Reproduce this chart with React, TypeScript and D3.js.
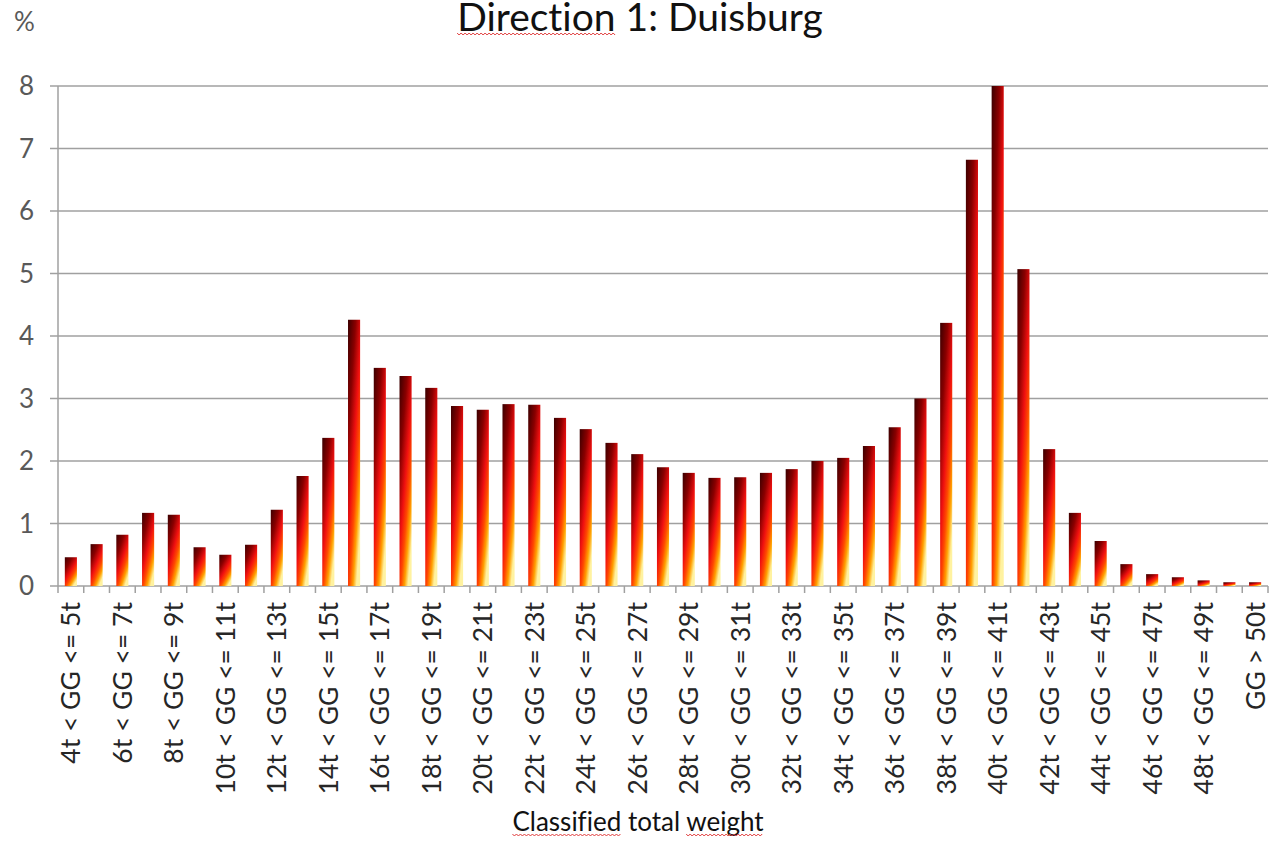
import React, { useEffect, useRef } from 'react';
import * as d3 from 'd3';

// weight classes, one bar each
const categories: string[] = [
	'4t < GG <= 5t', '5t < GG <= 6t', '6t < GG <= 7t', '7t < GG <= 8t',
	'8t < GG <= 9t', '9t < GG <= 10t', '10t < GG <= 11t', '11t < GG <= 12t',
	'12t < GG <= 13t', '13t < GG <= 14t', '14t < GG <= 15t', '15t < GG <= 16t',
	'16t < GG <= 17t', '17t < GG <= 18t', '18t < GG <= 19t', '19t < GG <= 20t',
	'20t < GG <= 21t', '21t < GG <= 22t', '22t < GG <= 23t', '23t < GG <= 24t',
	'24t < GG <= 25t', '25t < GG <= 26t', '26t < GG <= 27t', '27t < GG <= 28t',
	'28t < GG <= 29t', '29t < GG <= 30t', '30t < GG <= 31t', '31t < GG <= 32t',
	'32t < GG <= 33t', '33t < GG <= 34t', '34t < GG <= 35t', '35t < GG <= 36t',
	'36t < GG <= 37t', '37t < GG <= 38t', '38t < GG <= 39t', '39t < GG <= 40t',
	'40t < GG <= 41t', '41t < GG <= 42t', '42t < GG <= 43t', '43t < GG <= 44t',
	'44t < GG <= 45t', '45t < GG <= 46t', '46t < GG <= 47t', '47t < GG <= 48t',
	'48t < GG <= 49t', '49t < GG <= 50t', 'GG > 50t',
];

// share of vehicles in %
const shares: number[] = [
	0.46, 0.67, 0.82, 1.17, 1.14, 0.62, 0.5, 0.66, 1.22, 1.76,
	2.37, 4.26, 3.49, 3.36, 3.17, 2.88, 2.82, 2.91, 2.9, 2.69,
	2.51, 2.29, 2.11, 1.9, 1.81, 1.73, 1.74, 1.81, 1.87, 2.0,
	2.05, 2.24, 2.54, 3.0, 4.21, 6.82, 8.0, 5.07, 2.19, 1.17,
	0.72, 0.35, 0.19, 0.14, 0.09, 0.06, 0.06,
];

const yTicks: number[] = [0, 1, 2, 3, 4, 5, 6, 7, 8];

const title = 'Direction 1: Duisburg';
const xTitle = 'Classified total weight';
const yTitle = '%';

const W = 1276;
const H = 842;
const FONT = 'Lato, "Open Sans", sans-serif';

const squiggle = (g, x0, x1, y) => {
	const pts = d3.range(x0, x1, 2).map((x, i) => [x, y + (i % 2 ? 2 : 0)]);
	g.append('path')
		.attr('d', d3.line()(pts))
		.attr('fill', 'none')
		.attr('stroke', '#e03a3a')
		.attr('stroke-width', 1);
};

const App = () => {
	const ref = useRef(null);

	useEffect(() => {
		document.body.style.margin = '0';
		const svg = d3.select(ref.current);
		svg.selectAll('*').remove();

		const left = 58, right = 1268, top = 86, bottom = 586;

		const x = d3.scaleBand().domain(categories).range([left, right]).paddingInner(0).paddingOuter(0);
		const y = d3.scaleLinear().domain([0, 8]).range([bottom, top]);
		const barW = x.bandwidth() * 0.47;

		const defs = svg.append('defs');
		const grad = defs.append('linearGradient')
			.attr('id', 'fire')
			.attr('x1', 0).attr('y1', 0).attr('x2', 0.7).attr('y2', 1);
		[
			[0, '#3a0000'],
			[0.3, '#8a0000'],
			[0.55, '#f01010'],
			[0.72, '#ff4a00'],
			[0.86, '#ffa000'],
			[1, '#fff2a0'],
		].forEach(([o, c]) => grad.append('stop').attr('offset', o).attr('stop-color', c));

		// grid
		svg.append('g')
			.selectAll('line')
			.data(yTicks)
			.join('line')
			.attr('x1', left - 8)
			.attr('x2', right)
			.attr('y1', (d) => y(d))
			.attr('y2', (d) => y(d))
			.attr('stroke', '#a0a0a0')
			.attr('stroke-width', 1.5);

		// y axis line
		svg.append('line')
			.attr('x1', left).attr('x2', left)
			.attr('y1', top).attr('y2', bottom)
			.attr('stroke', '#a0a0a0').attr('stroke-width', 1.5);

		// x tick marks on band edges
		const edges = categories.map((c) => x(c)).concat([right]);
		svg.append('g')
			.selectAll('line')
			.data(edges)
			.join('line')
			.attr('x1', (d) => d).attr('x2', (d) => d)
			.attr('y1', bottom).attr('y2', bottom + 7)
			.attr('stroke', '#a0a0a0').attr('stroke-width', 1.5);

		// bars
		svg.append('g')
			.selectAll('rect')
			.data(shares)
			.join('rect')
			.attr('x', (d, i) => x(categories[i]) + (x.bandwidth() - barW) / 2)
			.attr('y', (d) => y(d))
			.attr('width', barW)
			.attr('height', (d) => bottom - y(d))
			.attr('fill', 'url(#fire)');

		const txt = svg.append('g')
			.attr('font-family', FONT)
			.style('font-variant-ligatures', 'none');

		// y labels
		txt.append('g')
			.selectAll('text')
			.data(yTicks)
			.join('text')
			.attr('x', 34)
			.attr('y', (d) => y(d))
			.attr('dy', '0.35em')
			.attr('text-anchor', 'end')
			.attr('font-size', 26)
			.attr('fill', '#595959')
			.text((d) => d);

		// category labels, every second one
		txt.append('g')
			.selectAll('text')
			.data(categories.filter((c, i) => i % 2 === 0))
			.join('text')
			.attr('transform', (d) => `translate(${x(d) + x.bandwidth() / 2},602) rotate(-90)`)
			.attr('dy', '0.36em')
			.attr('text-anchor', 'end')
			.attr('font-size', 26.5)
			.attr('fill', '#262626')
			.text((d) => d);

		// "%"
		txt.append('text')
			.attr('x', 14).attr('y', 31)
			.attr('font-size', 26)
			.attr('fill', '#595959')
			.text(yTitle);

		// title
		const t = txt.append('text')
			.attr('x', 640).attr('y', 31)
			.attr('text-anchor', 'middle')
			.attr('font-size', 39)
			.attr('fill', '#111')
			.text(title);
		const tn = t.node();
		const tb = tn.getBBox();
		squiggle(svg, tb.x, tb.x + tn.getSubStringLength(0, 9), 33);

		// x axis title
		const a = txt.append('text')
			.attr('x', 638).attr('y', 831)
			.attr('text-anchor', 'middle')
			.attr('font-size', 26)
			.attr('fill', '#111')
			.text(xTitle);
		const an = a.node();
		const ab = an.getBBox();
		squiggle(svg, ab.x, ab.x + an.getSubStringLength(0, 10), 834);
		const wStart = an.getSubStringLength(0, 17);
		squiggle(svg, ab.x + wStart, ab.x + an.getSubStringLength(0, 23), 834);
	}, []);

	return <svg ref={ref} width={W} height={H} style={{ display: 'block', background: '#fff' }} />;
};

export default App;
